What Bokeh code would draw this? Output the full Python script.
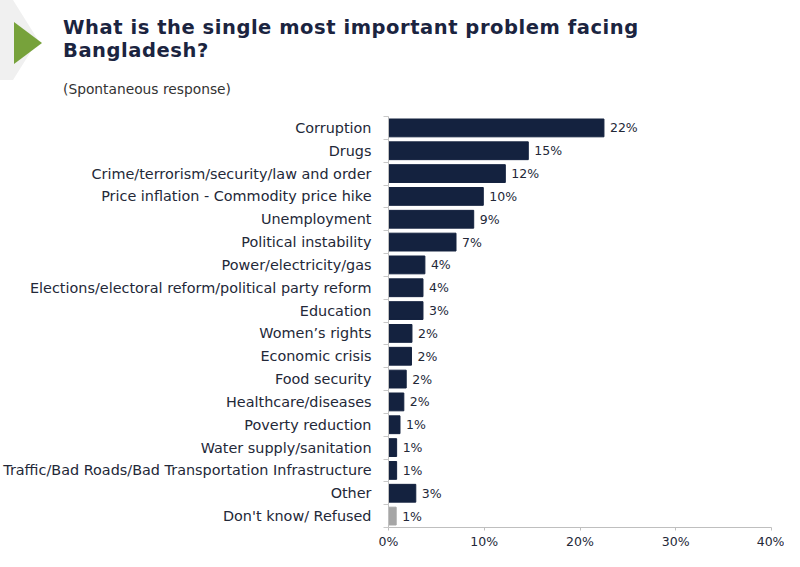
from bokeh.plotting import figure
from bokeh.layouts import column
from bokeh.models import ColumnDataSource, Range1d, FixedTicker, PrintfTickFormatter, Div
from bokeh.core.properties import value
from bokeh.embed import file_html
from bokeh.resources import INLINE

title_lines = ["What is the single most important problem facing", "Bangladesh?"]
subtitle = "(Spontaneous response)"
categories = [
    "Corruption", "Drugs", "Crime/terrorism/security/law and order",
    "Price inflation - Commodity price hike", "Unemployment", "Political instability",
    "Power/electricity/gas", "Elections/electoral reform/political party reform",
    "Education", "Women\u2019s rights", "Economic crisis", "Food security",
    "Healthcare/diseases", "Poverty reduction", "Water supply/sanitation",
    "Traffic/Bad Roads/Bad Transportation Infrastructure", "Other", "Don't know/ Refused",
]
values = [22.5, 14.6, 12.2, 9.9, 8.9, 7.05, 3.8, 3.6, 3.6, 2.45, 2.4, 1.85, 1.6, 1.2, 0.85, 0.85, 2.85, 0.8]
value_labels = ["22%", "15%", "12%", "10%", "9%", "7%", "4%", "4%", "3%", "2%", "2%", "2%",
                "2%", "1%", "1%", "1%", "3%", "1%"]
x_ticks = [0, 10, 20, 30, 40]

NAVY = "#14223f"
GREY_BAR = "#a6a6a6"
TEXT = "#232838"
TITLE = "#1b2440"
GREEN = "#77a23b"
FONT = "DejaVu Sans"

W = 784
HEAD_H = 110
CHART_H = 441
FL, FR, FT, FB = 387, 771, 116, 529   # page-pixel frame edges

# ---------------- header (HTML text) ----------------
line_tops = [17.7, 40.7]
title_divs = "".join(
    f'<div style="position:absolute;left:63px;top:{t}px;white-space:nowrap;font-weight:bold;'
    f'font-size:19.5px;letter-spacing:0.55px;line-height:20px;color:{TITLE};">{txt}</div>'
    for t, txt in zip(line_tops, title_lines)
)
header_html = f"""
<div style="position:relative;width:{W}px;height:{HEAD_H}px;overflow:hidden;font-family:'{FONT}';">
  <div style="position:absolute;left:0;top:0;width:40px;height:80px;background:#f0f0f0;
              clip-path:polygon(0 0,13px 0,38px 40px,13px 80px,0 80px);"></div>
  <div style="position:absolute;left:14px;top:22px;width:0;height:0;
              border-top:21.5px solid transparent;border-bottom:21.5px solid transparent;
              border-left:28px solid {GREEN};"></div>
  {title_divs}
  <div style="position:absolute;left:63px;top:81px;white-space:nowrap;font-size:13.8px;
              line-height:16px;color:#333333;">{subtitle}</div>
</div>
"""
header = Div(text=header_html, width=W, height=HEAD_H, margin=(0, 0, 0, 0))

# ---------------- chart ----------------
n = len(categories)
pos = list(range(n))
colors = [NAVY] * (n - 1) + [GREY_BAR]
src = ColumnDataSource(dict(y=pos, v=values, lab=value_labels, c=colors))

p = figure(width=W, height=CHART_H, output_backend="svg", toolbar_location=None,
           x_range=Range1d(0, 40), y_range=Range1d(n - 0.5, -0.5),
           min_border_left=FL, min_border_right=W - FR,
           min_border_top=FT - HEAD_H, min_border_bottom=HEAD_H + CHART_H - FB,
           margin=(0, 0, 0, 0))
p.outline_line_color = None
p.grid.grid_line_color = None

p.hbar(y="y", right="v", left=0, height=0.78, color="c", source=src)
p.text(x="v", y="y", text="lab", source=src, x_offset=6, text_baseline="middle",
       text_align="left", text_font=value(FONT), text_font_size="12.5px", text_color=TEXT)

ya = p.yaxis[0]
ya.ticker = FixedTicker(ticks=pos, minor_ticks=[i - 0.5 for i in range(n + 1)])
ya.major_label_overrides = {i: c for i, c in enumerate(categories)}
ya.major_tick_out = 0
ya.major_tick_in = 0
ya.minor_tick_out = 5
ya.minor_tick_in = 0
ya.minor_tick_line_color = "#c8c8c8"
ya.axis_line_color = "#bfbfbf"
ya.major_label_standoff = 12
ya.major_label_text_font = FONT
ya.major_label_text_font_size = "14.4px"
ya.major_label_text_color = TEXT

xa = p.xaxis[0]
xa.ticker = FixedTicker(ticks=x_ticks, minor_ticks=[])
xa.formatter = PrintfTickFormatter(format="%d%%")
xa.axis_line_color = "#bfbfbf"
xa.major_tick_line_color = "#bfbfbf"
xa.major_tick_out = 3
xa.major_tick_in = 0
xa.minor_tick_out = 0
xa.minor_tick_in = 0
xa.major_label_standoff = 3
xa.major_label_text_font = FONT
xa.major_label_text_font_size = "12.5px"
xa.major_label_text_color = TEXT

layout = column(header, p, spacing=0)
open("out.html", "w").write(file_html(layout, INLINE))
